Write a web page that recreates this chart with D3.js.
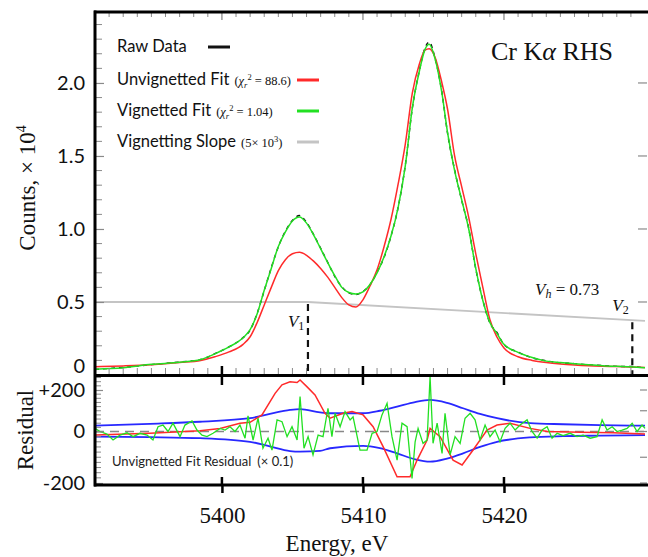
<!DOCTYPE html>
<html>
<head>
<meta charset="utf-8">
<script src="https://cdn.jsdelivr.net/npm/d3@7"></script>
<style>
  body { margin: 0; background: #fff; }
  svg { display: block; }
</style>
</head>
<body>
<div id="chart"></div>
<script>
// Spectrum panel: energy grid (eV) and counts (x 10^4)
const energy = [5391, 5393, 5395, 5397, 5398.5, 5399.5, 5400.5, 5401.5, 5402, 5402.5,
  5403, 5403.5, 5404, 5404.5, 5405, 5405.5, 5406, 5406.5, 5407, 5407.5,
  5408, 5408.5, 5409, 5409.5, 5410, 5410.5, 5411, 5411.5, 5412, 5412.5,
  5413, 5413.5, 5414, 5414.4, 5414.7, 5415.1, 5415.6, 5416, 5416.5, 5417,
  5417.5, 5418, 5418.5, 5419, 5419.5, 5420, 5421, 5422, 5423, 5424,
  5425, 5426, 5427, 5428, 5429, 5430];
const rawCounts = [0.038, 0.052, 0.071, 0.089, 0.106, 0.146, 0.192, 0.256, 0.308, 0.423,
  0.578, 0.735, 0.878, 0.985, 1.058, 1.092, 1.045, 0.962, 0.868, 0.772,
  0.676, 0.604, 0.562, 0.551, 0.573, 0.618, 0.704, 0.806, 0.955, 1.150,
  1.435, 1.826, 2.085, 2.240, 2.280, 2.175, 1.935, 1.655, 1.405, 1.196,
  1.004, 0.726, 0.513, 0.357, 0.292, 0.208, 0.157, 0.118, 0.097, 0.083,
  0.078, 0.069, 0.065, 0.059, 0.058, 0.049];
const unvignettedFit = [0.057, 0.062, 0.070, 0.085, 0.100, 0.125, 0.158, 0.210, 0.262, 0.360,
  0.480, 0.600, 0.715, 0.790, 0.830, 0.840, 0.820, 0.780, 0.730, 0.670,
  0.600, 0.530, 0.480, 0.465, 0.515, 0.610, 0.720, 0.880, 1.070, 1.310,
  1.580, 1.930, 2.130, 2.225, 2.235, 2.180, 2.000, 1.820, 1.500, 1.290,
  1.080, 0.830, 0.600, 0.380, 0.260, 0.185, 0.125, 0.100, 0.085, 0.075,
  0.068, 0.063, 0.060, 0.058, 0.055, 0.052];
const vignettedFit = [0.040, 0.050, 0.073, 0.087, 0.106, 0.145, 0.192, 0.255, 0.310, 0.420,
  0.580, 0.730, 0.880, 0.980, 1.055, 1.082, 1.040, 0.960, 0.865, 0.770,
  0.680, 0.600, 0.565, 0.555, 0.570, 0.620, 0.700, 0.810, 0.955, 1.150,
  1.430, 1.830, 2.080, 2.230, 2.265, 2.170, 1.930, 1.660, 1.400, 1.200,
  1.000, 0.730, 0.510, 0.360, 0.285, 0.210, 0.155, 0.120, 0.095, 0.085,
  0.077, 0.070, 0.064, 0.060, 0.057, 0.050];

// vignetting slope (grey line)
const slopeEnergy = [5391, 5406.1, 5430];
const slopeLevel = [0.5, 0.5, 0.37];
const markers = [{sub: "1", e: 5406.1}, {sub: "2", e: 5429.1}];

// Residual panel
const vigResEnergy = [5391.00, 5391.35, 5391.85, 5392.28, 5392.77, 5393.27, 5393.70, 5394.19, 5394.69, 5395.11,
  5395.47, 5395.82, 5396.18, 5396.53, 5397.03, 5397.38, 5397.88, 5398.23, 5398.59, 5398.94,
  5399.37, 5399.87, 5400.22, 5400.57, 5400.93, 5401.28, 5401.64, 5401.85, 5402.21, 5402.56,
  5402.91, 5403.27, 5403.55, 5403.91, 5404.26, 5404.62, 5404.97, 5405.33, 5405.54, 5405.82,
  5406.11, 5406.46, 5406.82, 5407.17, 5407.52, 5407.80, 5408.02, 5408.38, 5408.73, 5409.09,
  5409.30, 5409.79, 5410.29, 5410.65, 5411.00, 5411.35, 5411.71, 5412.06, 5412.42, 5412.77,
  5413.13, 5413.48, 5413.70, 5413.91, 5414.26, 5414.55, 5414.76, 5414.97, 5415.26, 5415.61,
  5415.82, 5416.18, 5416.53, 5416.89, 5417.24, 5417.60, 5417.95, 5418.30, 5418.66, 5419.01,
  5419.37, 5419.72, 5420.08, 5420.43, 5420.79, 5421.14, 5421.64, 5421.99, 5422.35, 5422.70,
  5423.06, 5423.41, 5423.77, 5424.19, 5424.69, 5425.18, 5425.61, 5426.11, 5426.60, 5426.96,
  5427.31, 5427.67, 5428.02, 5428.38, 5428.73, 5429.09, 5429.44, 5429.79, 5430.00];
const vignettedResidual = [15, 0, -10, -33, -14, -5, -20, -7, -14, -33,
  23, 31, 0, 40, -20, 31, 51, 7, -14, -20,
  -7, 15, 7, 23, 0, 31, -26, 75, -33, 64,
  -65, -26, -72, 56, 47, -20, 23, -33, 168, -65,
  -20, -91, -14, -20, 112, -20, 88, 23, 96, 56,
  71, -72, -72, -7, 0, 80, 136, -20, -111, 40,
  23, -182, -40, 15, -46, -33, 264, -46, 40, -85,
  88, -91, -20, -46, 64, 88, 56, -33, 31, -20,
  7, -40, 15, 40, 7, 31, 56, 0, -26, 7,
  23, -26, -7, -16, -7, -20, -14, -26, -20, 56,
  7, 23, 0, 7, 15, 40, 0, 31, 15];

const unvigResEnergy = [5391.0, 5394.9, 5398.45, 5399.87, 5401.28, 5401.99, 5402.84, 5403.77, 5404.26, 5404.83,
  5405.33, 5405.54, 5406.04, 5406.60, 5407.31, 5407.67, 5408.59, 5409.23, 5410.01, 5410.72,
  5411.43, 5412.42, 5413.34, 5413.84, 5414.55, 5414.76, 5415.47, 5416.39, 5417.03, 5417.81,
  5418.80, 5419.51, 5420.43, 5421.85, 5423.06, 5425.40, 5427.74, 5430.0];
const unvignettedResidual = [-14, -7, 4, 15, 40, 44, 80, 184, 225, 240,
  236, 248, 215, 176, 88, 64, 88, 96, 80, 23,
  -59, -176, -176, -111, -33, 15, -20, -111, -130, -72,
  7, 31, 40, 15, 0, -3, -5, -10];

const errEnergy = [5391.0, 5394.9, 5398.45, 5401.99, 5403.4, 5404.83, 5405.54, 5406.96, 5407.67, 5410.01,
  5411.2, 5412.42, 5413.7, 5414.76, 5415.96, 5417.1, 5418.3, 5419.51, 5421.85, 5424.19,
  5426.8, 5430.0];
const errUpper = [28, 37, 47, 64, 85, 104, 108, 92, 88, 88,
  100, 120, 142, 152, 138, 112, 85, 64, 40, 35,
  31, 28];
const errLower = [-20, -22, -26, -40, -58, -76, -78, -75, -65, -56,
  -65, -85, -108, -117, -105, -85, -60, -40, -23, -18,
  -16, -14];

// Ticks
const energyTicks = [5400, 5410, 5420];
const countTicks = [0, 0.5, 1.0, 1.5, 2.0];
const residualTicks = [-200, 0, 200];

const serif = "'Liberation Serif', 'Times New Roman', serif";
const sans = "Lato, 'Open Sans', sans-serif";

const width = 648, height = 557;
const svg = d3.select("#chart").append("svg")
    .attr("width", width)
    .attr("height", height);

// scales
const x = d3.scaleLinear().domain([5391, 5430]).range([95, 645]);
const y = d3.scaleLinear().domain([0, 2.486]).range([375, 12]);
const yr = d3.scaleLinear().domain([-200, 0, 200]).range([483, 431.5, 390]);

const defs = svg.append("defs");
defs.append("clipPath").attr("id", "clipMain")
  .append("rect").attr("x", 95).attr("y", 12).attr("width", 553).attr("height", 363);
defs.append("clipPath").attr("id", "clipRes")
  .append("rect").attr("x", 95).attr("y", 375).attr("width", 553).attr("height", 110);

// ---------- main panel ----------
const main = svg.append("g").attr("clip-path", "url(#clipMain)");

const slopeLine = d3.line().x((d, i) => x(slopeEnergy[i])).y(d => y(d));
main.append("path")
    .attr("d", slopeLine(slopeLevel))
    .attr("fill", "none").attr("stroke", "#c4c4c4").attr("stroke-width", 1.8);

const specLine = d3.line()
    .x((d, i) => x(energy[i]))
    .y(d => y(d))
    .curve(d3.curveMonotoneX);

main.append("path").attr("d", specLine(rawCounts))
    .attr("fill", "none").attr("stroke", "#111").attr("stroke-width", 1.4)
    .attr("stroke-dasharray", "4,4");
main.append("path").attr("d", specLine(unvignettedFit))
    .attr("fill", "none").attr("stroke", "#ff2a2a").attr("stroke-width", 1.5);
main.append("path").attr("d", specLine(vignettedFit))
    .attr("fill", "none").attr("stroke", "#22e022").attr("stroke-width", 1.5);

// vignetting markers V1, V2
const slopeAt = e => {
  const i = d3.bisectRight(slopeEnergy, e) - 1;
  const j = Math.min(i + 1, slopeEnergy.length - 1);
  if (i === j) return slopeLevel[i];
  const t = (e - slopeEnergy[i]) / (slopeEnergy[j] - slopeEnergy[i]);
  return slopeLevel[i] + t * (slopeLevel[j] - slopeLevel[i]);
};
main.selectAll(".vmark").data(markers).enter().append("line")
    .attr("x1", d => x(d.e)).attr("x2", d => x(d.e))
    .attr("y1", d => y(slopeAt(d.e)) + 2).attr("y2", y(0))
    .attr("stroke", "#111").attr("stroke-width", 2.2)
    .attr("stroke-dasharray", "7,5");

const vLabels = [{dx: -20, yy: 327}, {dx: -20, yy: 311}];
markers.forEach((m, i) => {
  const t = svg.append("text")
      .attr("x", x(m.e) + vLabels[i].dx).attr("y", vLabels[i].yy)
      .attr("font-family", serif).attr("font-size", 17).attr("fill", "#111");
  t.append("tspan").attr("font-style", "italic").text("V");
  t.append("tspan").attr("font-size", 12).attr("dy", 3).text(m.sub);
});

const vh = svg.append("text").attr("x", 535).attr("y", 295)
    .attr("font-family", serif).attr("font-size", 17).attr("fill", "#111");
vh.append("tspan").attr("font-style", "italic").text("V");
vh.append("tspan").attr("font-style", "italic").attr("font-size", 12).attr("dy", 3).text("h");
vh.append("tspan").attr("dy", -3).text(" = 0.73");

// title
const title = svg.append("text").attr("x", 491).attr("y", 60)
    .attr("font-family", serif).attr("font-size", 26).attr("fill", "#111");
title.append("tspan").text("Cr K");
title.append("tspan").attr("font-style", "italic").text("\u03b1");
title.append("tspan").text(" RHS");

// legend
const legend = [
  {label: "Raw Data", note: null, color: "#111", base: 52, lx: 208},
  {label: "Unvignetted Fit", note: "88.6", color: "#ff2a2a", base: 85, lx: 297},
  {label: "Vignetted Fit", note: "1.04", color: "#22e022", base: 116, lx: 297},
  {label: "Vignetting Slope", note: "slope", color: "#c4c4c4", base: 147, lx: 297}
];
legend.forEach(d => {
  const t = svg.append("text").attr("x", 117).attr("y", d.base)
      .attr("font-family", sans).attr("font-size", 16.5).attr("fill", "#111");
  t.append("tspan").text(d.label);
  if (d.note === "slope") {
    t.append("tspan").attr("font-family", serif).attr("font-size", 12.5).attr("dx", 5).text("(5\u00d7 10");
    t.append("tspan").attr("font-family", serif).attr("font-size", 8.5).attr("dy", -5).text("3");
    t.append("tspan").attr("font-family", serif).attr("font-size", 12.5).attr("dy", 5).text(")");
  } else if (d.note) {
    t.append("tspan").attr("font-family", serif).attr("font-size", 12.5).attr("dx", 5).text("(");
    t.append("tspan").attr("font-family", serif).attr("font-size", 12.5).attr("font-style", "italic").text("\u03c7");
    t.append("tspan").attr("font-family", serif).attr("font-size", 8.5).attr("font-style", "italic")
        .attr("dy", 3).text("r");
    t.append("tspan").attr("font-family", serif).attr("font-size", 8.5).attr("dy", -8).text("2");
    t.append("tspan").attr("font-family", serif).attr("font-size", 12.5).attr("dy", 5)
        .text(" = " + d.note + ")");
  }
  svg.append("line")
      .attr("x1", d.lx).attr("x2", d.lx + 22)
      .attr("y1", d.base - 5).attr("y2", d.base - 5)
      .attr("stroke", d.color).attr("stroke-width", 3);
});

// ---------- residual panel ----------
const res = svg.append("g").attr("clip-path", "url(#clipRes)");

res.append("line")
    .attr("x1", 95).attr("x2", 648).attr("y1", yr(0)).attr("y2", yr(0))
    .attr("stroke", "#888").attr("stroke-width", 1.6).attr("stroke-dasharray", "9,6");

const errLine = arr => d3.line()
    .x((d, i) => x(errEnergy[i])).y(d => yr(d))
    .curve(d3.curveMonotoneX)(arr);
res.append("path").attr("d", errLine(errUpper))
    .attr("fill", "none").attr("stroke", "#2828ff").attr("stroke-width", 1.8);
res.append("path").attr("d", errLine(errLower))
    .attr("fill", "none").attr("stroke", "#2828ff").attr("stroke-width", 1.8);

res.append("path")
    .attr("d", d3.line().x((d, i) => x(unvigResEnergy[i])).y(d => yr(d))(unvignettedResidual))
    .attr("fill", "none").attr("stroke", "#ff2a2a").attr("stroke-width", 1.5);
res.append("path")
    .attr("d", d3.line().x((d, i) => x(vigResEnergy[i])).y(d => yr(d))(vignettedResidual))
    .attr("fill", "none").attr("stroke", "#22e022").attr("stroke-width", 1.3);

const note = svg.append("text").attr("x", 112).attr("y", 466)
    .attr("font-family", sans).attr("font-size", 13).attr("fill", "#222");
note.append("tspan").text("Unvignetted Fit Residual");
note.append("tspan").attr("dx", 6).text("(\u00d7 0.1)");

// ---------- axes ----------
const gray = "#8a8a8a";

// left axis, counts
const yAxis = svg.append("g").attr("transform", "translate(95,0)")
    .call(d3.axisLeft(y).tickValues(countTicks).tickSize(-9).tickPadding(10)
      .tickFormat(d => d === 0 ? "0" : d3.format(".1f")(d)));
yAxis.select(".domain").remove();
yAxis.selectAll(".tick line").attr("stroke", gray).attr("stroke-width", 1.2);
yAxis.selectAll(".tick text").attr("font-family", sans).attr("font-size", 20).attr("fill", "#111");
yAxis.selectAll(".tick text").filter(d => d === 0).attr("y", -9);

svg.append("g").selectAll("line")
    .data(d3.range(1, 25).map(i => i / 10).filter(v => Math.round(v * 10) % 5 !== 0))
    .enter().append("line")
    .attr("x1", 96).attr("x2", 102).attr("y1", d => y(d)).attr("y2", d => y(d))
    .attr("stroke", gray).attr("stroke-width", 1);

// right ticks, counts
svg.append("g").selectAll("line").data(countTicks.filter(d => d > 0)).enter().append("line")
    .attr("x1", 638).attr("x2", 647).attr("y1", d => y(d)).attr("y2", d => y(d))
    .attr("stroke", gray).attr("stroke-width", 1.2);

// left axis, residual
const rAxis = svg.append("g").attr("transform", "translate(95,0)")
    .call(d3.axisLeft(yr).tickValues(residualTicks).tickSize(-8).tickPadding(10)
      .tickFormat(d => d > 0 ? "+" + d : (d < 0 ? "-" + Math.abs(d) : "0")));
rAxis.select(".domain").remove();
rAxis.selectAll(".tick line").attr("stroke", gray).attr("stroke-width", 1.2);
rAxis.selectAll(".tick text").attr("font-family", sans).attr("font-size", 20).attr("fill", "#111");

svg.append("g").selectAll("line")
    .data(d3.range(-200, 261, 20).filter(v => v % 200 !== 0))
    .enter().append("line")
    .attr("x1", 96).attr("x2", 101).attr("y1", d => yr(d)).attr("y2", d => yr(d))
    .attr("stroke", gray).attr("stroke-width", 1);

svg.append("g").selectAll("line").data([200, 100, 0, -100, -200]).enter().append("line")
    .attr("x1", 640).attr("x2", 647).attr("y1", d => yr(d)).attr("y2", d => yr(d))
    .attr("stroke", gray).attr("stroke-width", 1.2);

// minor energy ticks (1 eV)
const minorE = d3.range(5392, 5430, 1).filter(e => e % 10 !== 0);
svg.append("g").selectAll("line").data(minorE).enter().append("line")
    .attr("x1", d => x(d)).attr("x2", d => x(d)).attr("y1", 368).attr("y2", 375)
    .attr("stroke", gray).attr("stroke-width", 1);
svg.append("g").selectAll("line").data(minorE).enter().append("line")
    .attr("x1", d => x(d)).attr("x2", d => x(d)).attr("y1", 12).attr("y2", 17)
    .attr("stroke", gray).attr("stroke-width", 1);

// bottom axis with labels
const xAxis = svg.append("g").attr("transform", "translate(0,485)")
    .call(d3.axisBottom(x).tickValues(energyTicks).tickSize(8).tickPadding(14)
      .tickFormat(d3.format("d")));
xAxis.select(".domain").remove();
xAxis.selectAll(".tick line").attr("stroke", "#000").attr("stroke-width", 2.5);
xAxis.selectAll(".tick text").attr("font-family", serif).attr("font-size", 23).attr("fill", "#111");

// major energy ticks crossing the frame lines
const majorMarks = [[477, 485], [366, 385], [12, 20]];
majorMarks.forEach(([a, b]) => {
  svg.append("g").selectAll("line").data(energyTicks).enter().append("line")
      .attr("x1", d => x(d)).attr("x2", d => x(d)).attr("y1", a).attr("y2", b)
      .attr("stroke", b === 20 ? gray : "#000").attr("stroke-width", b === 20 ? 1.3 : 2.5);
});

// frame
const frame = svg.append("g").attr("stroke", "#000").attr("stroke-width", 3);
frame.append("line").attr("x1", 94).attr("x2", 648).attr("y1", 12).attr("y2", 12);
frame.append("line").attr("x1", 95).attr("x2", 95).attr("y1", 10.5).attr("y2", 486.5);
frame.append("line").attr("x1", 94).attr("x2", 648).attr("y1", 375.5).attr("y2", 375.5);
frame.append("line").attr("x1", 94).attr("x2", 648).attr("y1", 485).attr("y2", 485);

// axis titles
const yTitle = svg.append("text")
    .attr("transform", "translate(35,188) rotate(-90)")
    .attr("text-anchor", "middle")
    .attr("font-family", serif).attr("font-size", 23).attr("fill", "#111");
yTitle.append("tspan").text("Counts, \u00d7 10");
yTitle.append("tspan").attr("font-size", 14).attr("dy", -9).text("4");

svg.append("text")
    .attr("transform", "translate(33,430) rotate(-90)")
    .attr("text-anchor", "middle")
    .attr("font-family", serif).attr("font-size", 23).attr("fill", "#111")
    .text("Residual");

svg.append("text")
    .attr("x", 337).attr("y", 551)
    .attr("text-anchor", "middle")
    .attr("font-family", serif).attr("font-size", 23).attr("fill", "#111")
    .text("Energy, eV");
</script>
</body>
</html>
